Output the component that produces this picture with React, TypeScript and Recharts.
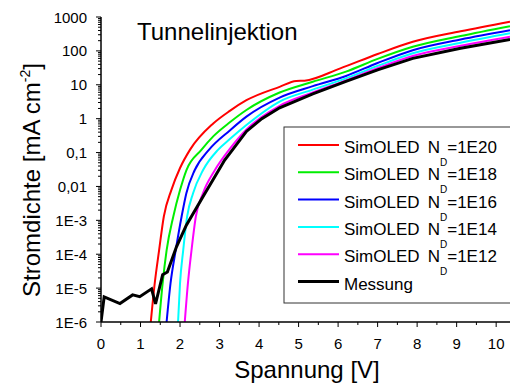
import React from 'react';
import { LineChart, Line, XAxis, YAxis, Customized } from 'recharts';

const FONT = '"Liberation Sans", Arial, sans-serif';

// Spannung [V] and Stromdichte [mA cm^-2] per curve
const vRed = [1.26, 1.36, 1.47, 1.59, 1.78, 2.0, 2.25, 2.84, 3.26, 3.68, 4.52, 4.94, 5.15, 6.04, 7.0, 7.89, 9.1, 10.35];
const jRed = [1e-6, 1.4e-5, 1.3e-4, 1.3e-3, 7.8e-3, 0.035, 0.12, 0.72, 1.7, 3.5, 8.7, 12.9, 13.2, 30, 81, 186, 380, 730];

const vGreen = [1.47, 1.56, 1.66, 1.83, 2.0, 2.16, 2.54, 2.84, 3.26, 3.68, 4.52, 5.36, 6.2, 7.0, 7.89, 9.1, 10.35];
const jGreen = [1e-6, 1.4e-5, 1.3e-4, 1.3e-3, 7.8e-3, 0.03, 0.12, 0.3, 0.78, 1.8, 5.9, 12.3, 24.5, 58, 132, 275, 537];

const vBlue = [1.66, 1.76, 1.89, 2.04, 2.16, 2.37, 2.73, 3.26, 3.68, 4.52, 5.36, 6.2, 7.0, 7.89, 9.1, 10.35];
const jBlue = [1e-6, 1.4e-5, 1.3e-4, 1.3e-3, 6.3e-3, 0.03, 0.12, 0.45, 1.15, 4.2, 9.1, 18.2, 44, 105, 217, 407];

const vCyan = [1.95, 2.0, 2.08, 2.18, 2.33, 2.58, 2.96, 3.26, 3.68, 4.52, 5.36, 6.2, 7.0, 7.89, 9.1, 10.35];
const jCyan = [1e-6, 1.4e-5, 1.3e-4, 1.3e-3, 6.3e-3, 0.03, 0.12, 0.25, 0.65, 3.2, 7.2, 15.5, 36, 85, 174, 331];

const vMagenta = [2.12, 2.2, 2.29, 2.4, 2.58, 2.88, 3.24, 3.68, 4.52, 5.36, 6.2, 7.0, 7.89, 9.1, 10.35];
const jMagenta = [1e-6, 1.4e-5, 1.3e-4, 1.3e-3, 6.3e-3, 0.03, 0.12, 0.48, 2.4, 5.9, 13.5, 31, 71, 141, 263];

const vMessung = [0, 0.08, 0.48, 0.8, 0.98, 1.28, 1.38, 1.56, 1.68, 1.91, 2.16, 2.58, 3.13, 3.26, 3.68, 4.07, 4.52, 5.36, 6.2, 7.0, 7.89, 9.1, 10.35];
const jMessung = [1e-6, 5.5e-6, 3.5e-6, 6.3e-6, 5.6e-6, 9.5e-6, 3.4e-6, 2.5e-5, 3.0e-5, 1.65e-4, 7.2e-4, 5e-3, 0.06, 0.095, 0.42, 1.0, 2.1, 5.4, 12.6, 27.6, 60, 120, 219];

const xMajor = [0, 1, 2, 3, 4, 5, 6, 7, 8, 9, 10];
const xLabels = ['0', '1', '2', '3', '4', '5', '6', '7', '8', '9', '10'];
const yMajor = [1e-6, 1e-5, 1e-4, 1e-3, 0.01, 0.1, 1, 10, 100, 1000];
const yLabels = ['1E-6', '1E-5', '1E-4', '1E-3', '0,01', '0,1', '1', '10', '100', '1000'];

const toRows = (v: number[], j: number[]) => v.map((x, i) => ({ v: x, j: j[i] }));

const series = [
  { key: 'r', label: '1E20', color: '#ff0000', width: 2, curve: 'monotone', data: toRows(vRed, jRed) },
  { key: 'g', label: '1E18', color: '#00ee00', width: 2, curve: 'monotone', data: toRows(vGreen, jGreen) },
  { key: 'b', label: '1E16', color: '#0000ff', width: 2, curve: 'monotone', data: toRows(vBlue, jBlue) },
  { key: 'c', label: '1E14', color: '#00ffff', width: 2, curve: 'monotone', data: toRows(vCyan, jCyan) },
  { key: 'm', label: '1E12', color: '#ff00ff', width: 2, curve: 'monotone', data: toRows(vMagenta, jMagenta) },
  { key: 'k', label: 'Messung', color: '#000000', width: 3, curve: 'linear', data: toRows(vMessung, jMessung) },
];

const xMinor = xMajor.map((x) => x + 0.5).filter((x) => x < 10.35);
const yMinor: number[] = [];
yMajor.slice(0, -1).forEach((m) => {
  for (let k = 2; k < 10; k++) yMinor.push(m * k);
});

const XTick = (props: any) => {
  const { x, y, payload } = props;
  const idx = xMajor.indexOf(payload.value);
  const major = idx >= 0;
  return (
    <g>
      <line x1={x} x2={x} y1={y} y2={y + (major ? 5 : 3)} stroke="#000" />
      {major && (
        <text x={x} y={y + 27} textAnchor="middle" fontSize={15} fontFamily={FONT} fill="#000">
          {xLabels[idx]}
        </text>
      )}
    </g>
  );
};

const YTick = (props: any) => {
  const { x, y, payload } = props;
  const idx = yMajor.findIndex((m) => Math.abs(m - payload.value) / m < 1e-6);
  const major = idx >= 0;
  return (
    <g>
      <line x1={x} x2={x - (major ? 5 : 3)} y1={y} y2={y} stroke="#000" />
      {major && (
        <text x={x - 14} y={y + 5.5} textAnchor="end" fontSize={15} fontFamily={FONT} fill="#000">
          {yLabels[idx]}
        </text>
      )}
    </g>
  );
};

const Overlay = () => (
  <g fontFamily={FONT} fill="#000">
    <text x={137} y={39.5} fontSize={24}>Tunnelinjektion</text>
    <text x={307} y={378} fontSize={24} textAnchor="middle">Spannung [V]</text>
    <text transform="translate(40,180) rotate(-90)" fontSize={24} textAnchor="middle">
      Stromdichte [mA cm<tspan fontSize={14} dy={-10}>-2</tspan><tspan dy={10}>]</tspan>
    </text>
    <rect x={284} y={127} width={240} height={176} fill="#fff" stroke="#333" strokeWidth={1} />
    {series.map((s, i) => {
      const ly = 145 + i * 27.3;
      return (
        <g key={s.key}>
          <line x1={298} x2={339} y1={ly} y2={ly} stroke={s.color} strokeWidth={s.width} />
          {s.key === 'k' ? (
            <text x={344} y={ly + 8} fontSize={17}>{s.label}</text>
          ) : (
            <>
              <text x={344} y={ly + 8} fontSize={17}>SimOLED</text>
              <text x={427.7} y={ly + 8} fontSize={17}>
                N<tspan fontSize={10} dy={13}>D</tspan>
                <tspan dy={-13}>={s.label}</tspan>
              </text>
            </>
          )}
        </g>
      );
    })}
  </g>
);

export default function App() {
  return (
    <div style={{ position: 'absolute', left: 0, top: 0 }}>
      <LineChart width={510} height={386} margin={{ top: 17, right: 0, bottom: 0, left: 0 }}>
        <XAxis
          dataKey="v"
          type="number"
          domain={[0, 10.35]}
          allowDataOverflow
          ticks={[...xMajor, ...xMinor]}
          interval={0}
          tick={<XTick />}
          tickLine={false}
          tickSize={0}
          tickMargin={0}
          height={64}
          axisLine={{ stroke: '#000', strokeWidth: 1.5 }}
        />
        <YAxis
          type="number"
          scale="log"
          domain={[1e-6, 1000]}
          allowDataOverflow
          ticks={[...yMajor, ...yMinor]}
          interval={0}
          tick={<YTick />}
          tickLine={false}
          tickSize={0}
          tickMargin={0}
          width={101}
          axisLine={{ stroke: '#000', strokeWidth: 1.5 }}
        />
        {series.map((s) => (
          <Line
            key={s.key}
            data={s.data}
            dataKey="j"
            type={s.curve as any}
            stroke={s.color}
            strokeWidth={s.width}
            dot={false}
            isAnimationActive={false}
          />
        ))}
        <Customized component={<Overlay />} />
      </LineChart>
    </div>
  );
}
